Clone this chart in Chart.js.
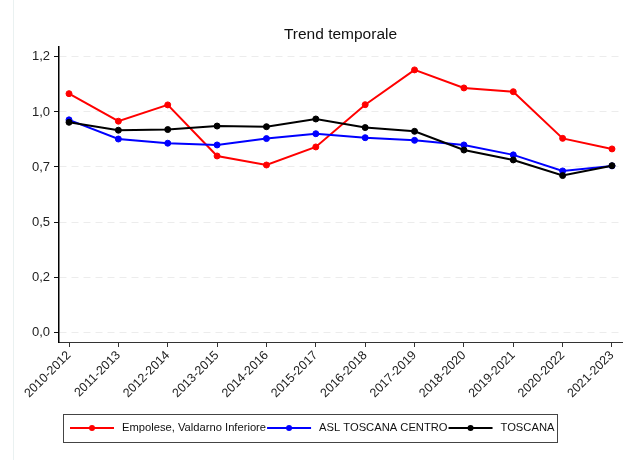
<!DOCTYPE html>
<html>
<head>
<meta charset="utf-8">
<script src="https://cdn.jsdelivr.net/npm/chart.js@4"></script>
<style>
  body { margin: 0; background: #fff; }
</style>
</head>
<body>
<canvas id="trendChart" width="634" height="460"></canvas>
<script>
// periodi (asse x)
const periods = ['2010-2012', '2011-2013', '2012-2014', '2013-2015', '2014-2016', '2015-2017',
    '2016-2018', '2017-2019', '2018-2020', '2019-2021', '2020-2022', '2021-2023'];

// valori
const empoleseValues = [1.083, 0.958, 1.032, 0.800, 0.759, 0.841, 1.033, 1.191, 1.109, 1.092, 0.880, 0.832];
const aslValues      = [0.964, 0.877, 0.858, 0.850, 0.879, 0.901, 0.883, 0.871, 0.850, 0.805, 0.732, 0.755];
const toscanaValues  = [0.953, 0.917, 0.920, 0.936, 0.933, 0.968, 0.929, 0.912, 0.827, 0.782, 0.711, 0.756];

const seriesNames = ['Empolese, Valdarno Inferiore', 'ASL TOSCANA CENTRO', 'TOSCANA'];

// tick asse y
const yTickValues = [0, 0.25, 0.5, 0.75, 1.0, 1.25];
const yTickLabels = ['0,0', '0,2', '0,5', '0,7', '1,0', '1,2'];

const FONT = "'Liberation Sans', Arial, sans-serif";

function toPoints(values) {
    return values.map((v, i) => ({ x: i, y: v }));
}

function makeDataset(label, values, color, order) {
    return {
        label: label,
        data: toPoints(values),
        borderColor: color,
        backgroundColor: color,
        pointBackgroundColor: color,
        pointBorderColor: color,
        borderWidth: 2,
        pointRadius: 3,
        pointBorderWidth: 1,
        pointHoverRadius: 3,
        tension: 0,
        order: order
    };
}

// titolo + legenda disegnati a mano
const decorations = {
    id: 'decorations',
    afterDraw(chart) {
        const ctx = chart.ctx;
        const area = chart.chartArea;
        ctx.save();

        // bordo leggero a sinistra
        ctx.strokeStyle = '#eaf1f1';
        ctx.lineWidth = 1;
        ctx.beginPath();
        ctx.moveTo(13.5, 0);
        ctx.lineTo(13.5, 460);
        ctx.stroke();

        // titolo
        ctx.fillStyle = '#111';
        ctx.font = '15.5px ' + FONT;
        ctx.textAlign = 'center';
        ctx.textBaseline = 'middle';
        ctx.fillText('Trend temporale', (area.left + area.right) / 2, 35);

        // legenda
        const boxLeft = 63, boxTop = 414, boxRight = 557, boxBottom = 442;
        ctx.strokeStyle = '#444';
        ctx.lineWidth = 1;
        ctx.strokeRect(boxLeft + 0.5, boxTop + 0.5, boxRight - boxLeft, boxBottom - boxTop);

        ctx.font = '11.2px ' + FONT;
        ctx.textAlign = 'left';
        const midY = 428;
        let x = 70;
        chart.data.datasets.forEach(ds => {
            ctx.strokeStyle = ds.borderColor;
            ctx.lineWidth = 2;
            ctx.beginPath();
            ctx.moveTo(x, midY);
            ctx.lineTo(x + 44, midY);
            ctx.stroke();
            ctx.fillStyle = ds.borderColor;
            ctx.beginPath();
            ctx.arc(x + 22, midY, 3, 0, Math.PI * 2);
            ctx.fill();
            ctx.fillStyle = '#111';
            ctx.fillText(ds.label, x + 52, midY);
            x = x + 52 + ctx.measureText(ds.label).width + 1;
        });

        ctx.restore();
    }
};

const ctx = document.getElementById('trendChart').getContext('2d');
new Chart(ctx, {
    type: 'line',
    data: {
        datasets: [
            makeDataset(seriesNames[0], empoleseValues, '#ff0000', 3),
            makeDataset(seriesNames[1], aslValues, '#0000ff', 2),
            makeDataset(seriesNames[2], toscanaValues, '#000000', 1)
        ]
    },
    options: {
        responsive: false,
        animation: false,
        devicePixelRatio: 1,
        layout: {
            padding: { top: 47, right: 12, left: 0, bottom: 0 }
        },
        plugins: {
            legend: { display: false },
            title: { display: false },
            tooltip: { enabled: false }
        },
        scales: {
            x: {
                type: 'linear',
                min: -0.2026,
                max: 11.2026,
                afterBuildTicks: scale => {
                    scale.ticks = periods.map((_, i) => ({ value: i }));
                },
                afterFit: scale => { scale.height = 118; },
                ticks: {
                    autoSkip: false,
                    minRotation: 45,
                    maxRotation: 45,
                    padding: 1,
                    color: '#222',
                    font: { family: FONT, size: 12.5 },
                    callback: (value, index) => periods[index]
                },
                grid: {
                    drawOnChartArea: false,
                    drawTicks: true,
                    tickLength: 5,
                    tickColor: '#333',
                    tickWidth: 1
                },
                border: { display: true, color: '#333', width: 1 }
            },
            y: {
                type: 'linear',
                min: -0.045,
                max: 1.295,
                afterBuildTicks: scale => {
                    scale.ticks = yTickValues.map(v => ({ value: v }));
                },
                afterFit: scale => { scale.width = 59; },
                ticks: {
                    padding: 4,
                    color: '#222',
                    font: { family: FONT, size: 13 },
                    callback: (value, index) => yTickLabels[index]
                },
                grid: {
                    color: '#ececec',
                    lineWidth: 1,
                    drawTicks: true,
                    tickLength: 5,
                    tickColor: '#111',
                    tickWidth: 1
                },
                border: { display: true, color: '#000', width: 1.5, dash: [7, 5] }
            }
        }
    },
    plugins: [decorations]
});
</script>
</body>
</html>
